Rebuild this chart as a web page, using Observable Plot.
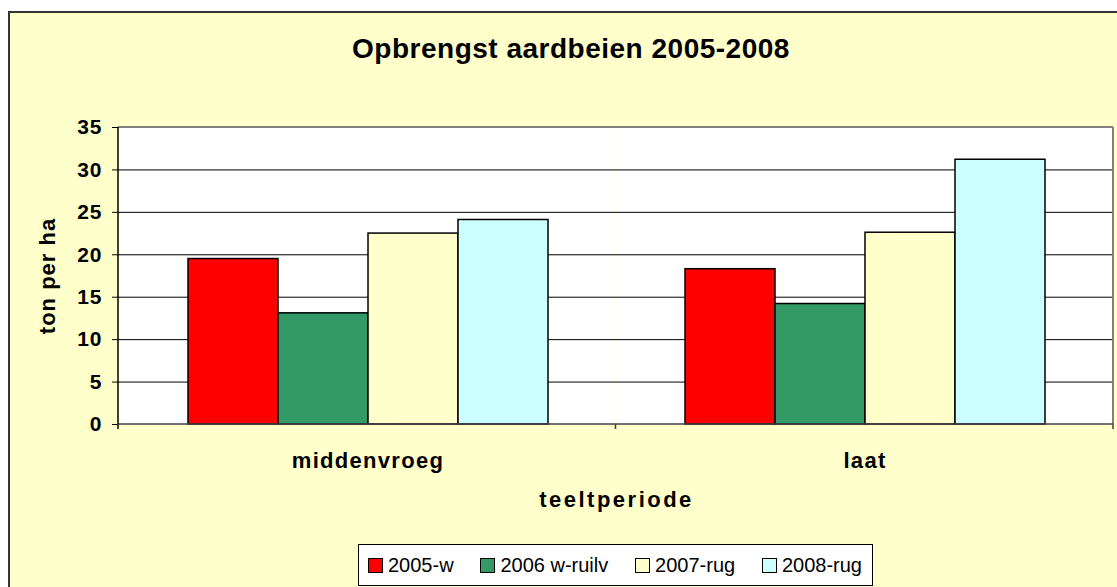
<!DOCTYPE html>
<html>
<head>
<meta charset="utf-8">
<script src="https://cdn.jsdelivr.net/npm/d3@7"></script>
<script src="https://cdn.jsdelivr.net/npm/@observablehq/plot@0.6"></script>
<style>
  html, body { margin: 0; padding: 0; width: 1117px; height: 587px; overflow: hidden; background: #ffffff; }
  body { font-family: Arial, "Liberation Sans", sans-serif; }
  #chart { position: absolute; left: 8px; top: 11px; width: 1140px; height: 600px; background: #FFFFCC; border: 2px solid #333333; box-sizing: border-box; }
  #title { position: absolute; left: 0; width: 1122px; top: 22px; text-align: center; font-weight: bold; font-size: 28px; line-height: 1; letter-spacing: 0.5px; color: #000; white-space: nowrap; }
  #plot { position: absolute; left: 0; top: 87px; }
  #legend { position: absolute; left: 348px; top: 531px; width: 515px; height: 42px; box-sizing: border-box; background: #ffffff; border: 1px solid #000; display: flex; align-items: center; justify-content: space-between; padding: 0 10px 0 9px; font-size: 20px; color: #000; white-space: nowrap; }
  #legend .item { display: flex; align-items: center; }
  #legend .sw { width: 13px; height: 13px; border: 1px solid #000; margin-right: 5px; }
</style>
</head>
<body>
<div id="chart">
  <div id="title">Opbrengst aardbeien 2005-2008</div>
  <div id="plot"></div>
  <div id="legend"></div>
</div>
<script>
// ---- data ----
const categories = ["middenvroeg", "laat"];
const series = ["2005-w", "2006 w-ruilv", "2007-rug", "2008-rug"];
const colors = ["#FF0000", "#339966", "#FFFFCC", "#CCFFFF"];
const values2005w = [19.5, 18.3];
const values2006wruilv = [13.1, 14.2];
const values2007rug = [22.5, 22.6];
const values2008rug = [24.1, 31.2];
const yTicks = [0, 5, 10, 15, 20, 25, 30, 35];
const xLabel = "teeltperiode";
const yLabel = "ton per ha";

const seriesValues = [values2005w, values2006wruilv, values2007rug, values2008rug];
const data = categories.flatMap((c, i) => series.map((s, j) => ({ cat: c, series: s, value: seriesValues[j][i] })));

const plot = Plot.plot({
  width: 1107,
  height: 419,
  marginLeft: 108,
  marginRight: 4,
  marginTop: 27,
  marginBottom: 95,
  style: { background: "transparent", fontFamily: "Arial, 'Liberation Sans', sans-serif", fontSize: "20px", fontWeight: "bold", color: "#000" },
  fx: { domain: categories, padding: 0, label: xLabel, axis: "bottom", tickSize: 0, tickPadding: 28, labelAnchor: "center", labelOffset: 82 },
  x: { domain: series, paddingInner: 0, paddingOuter: 0.741, axis: null },
  y: { domain: [0, 35], ticks: yTicks, tickSize: 7, tickPadding: 10, label: yLabel, labelAnchor: "center", labelOffset: 80, labelArrow: "none" },
  color: { domain: series, range: colors },
  marks: [
    Plot.frame({ fill: "#ffffff", stroke: "none" }),
    Plot.ruleY(yTicks.filter(t => t > 0 && t < 35), { stroke: "#000", strokeWidth: 1 }),
    Plot.barY(data, { fx: "cat", x: "series", y: "value", fill: "series", stroke: "#000", strokeWidth: 1.5 })
  ]
});
document.getElementById("plot").appendChild(plot);

// plot-area borders & axis lines from the scales
(function () {
  const svgEl = plot.tagName.toLowerCase() === "svg" ? plot : plot.querySelector("svg");
  const svg = d3.select(svgEl);
  const ys = plot.scale("y").range;
  const fxs = plot.scale("fx").range;
  const yTop = Math.min(...ys), yBot = Math.max(...ys), L = Math.min(...fxs), R = Math.max(...fxs);
  const g = svg.append("g");
  g.append("line").attr("x1", L).attr("x2", R).attr("y1", yTop).attr("y2", yTop).attr("stroke", "#808080").attr("stroke-width", 2);
  g.append("line").attr("x1", R).attr("x2", R).attr("y1", yTop).attr("y2", yBot).attr("stroke", "#808080").attr("stroke-width", 2);
  g.append("line").attr("x1", L).attr("x2", R).attr("y1", yBot).attr("y2", yBot).attr("stroke", "#404040").attr("stroke-width", 1.5);
  g.append("line").attr("x1", L).attr("x2", L).attr("y1", yTop).attr("y2", yBot + 5).attr("stroke", "#000").attr("stroke-width", 1.5);
  const step = (R - L) / categories.length;
  d3.range(categories.length + 1).forEach(i => {
    g.append("line").attr("x1", L + i * step).attr("x2", L + i * step).attr("y1", yBot).attr("y2", yBot + 5).attr("stroke", "#404040").attr("stroke-width", 1.5);
  });

  // text styling
  svg.selectAll("text").each(function () {
    const t = d3.select(this);
    const s = t.text();
    if (categories.includes(s)) {
      t.style("font-size", "22px").style("letter-spacing", "1.3px");
    } else if (s === xLabel) {
      t.style("font-size", "22px").style("letter-spacing", "2.5px");
    } else if (s === yLabel) {
      t.style("font-size", "22px").style("letter-spacing", "1px");
    } else {
      t.style("font-size", "21px").style("letter-spacing", "1px");
    }
  });
})();

// legend
const legend = d3.select("#legend");
series.forEach((s, i) => {
  const it = legend.append("div").attr("class", "item");
  it.append("div").attr("class", "sw").style("background", colors[i]);
  it.append("span").text(s);
});
</script>
</body>
</html>
